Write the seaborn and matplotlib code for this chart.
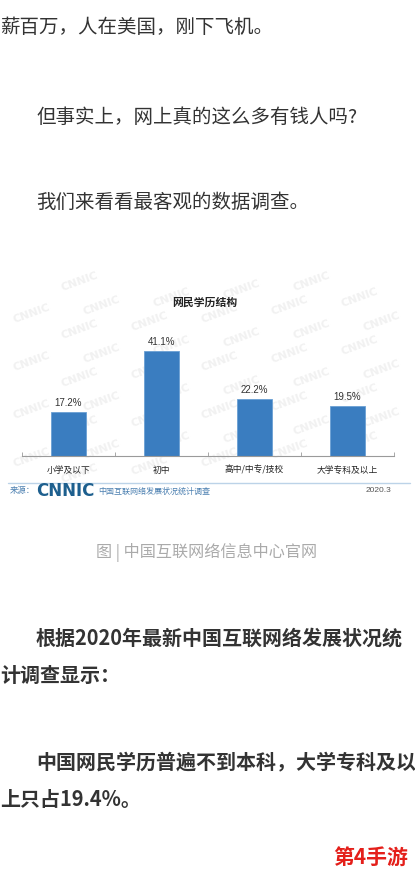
import matplotlib
matplotlib.use("Agg")
import matplotlib.pyplot as plt
import seaborn as sns

# data
categories = ["小学及以下", "初中", "高中/中专/技校", "大学专科及以上"]
shares = [17.2, 41.1, 22.2, 19.5]
value_labels = ["17.2%", "41.1%", "22.2%", "19.5%"]

chart_title = "网民学历结构"
source_label = "来源："
source_name = "中国互联网络发展状况统计调查"
source_date = "2020.3"

sns.set_theme(style="white")
plt.rcParams["font.family"] = ["Noto Sans CJK SC", "DejaVu Sans"]

W, H = 415, 874
fig = plt.figure(figsize=(W / 100, H / 100), dpi=100)
fig.patch.set_facecolor("white")


def fx(px):
    return px / W


def fy(py):
    return 1 - py / H


# article text above the chart
body = "#333333"
fig.text(fx(0), fy(27), "薪百万，人在美国，刚下飞机。", fontsize=14, color=body, va="center")
fig.text(fx(36), fy(117), "但事实上，网上真的这么多有钱人吗?", fontsize=14, color=body, va="center")
fig.text(fx(36), fy(202), "我们来看看最客观的数据调查。", fontsize=14, color=body, va="center")

# faint CNNIC watermarks behind the chart
for r in range(9):
    for c in range(7):
        x = 10 + c * 70 + (r % 2) * 22
        y = 290 + r * 24 - c * 8
        if 280 < y < 478 and 25 < x < 392:
            fig.text(fx(x), fy(y), "CNNIC", fontsize=8, fontweight="bold",
                     family="DejaVu Sans", color="#f1f1f1", rotation=20,
                     ha="center", va="center", zorder=-1)

# the bar chart
base, top = 456, 300
ax = fig.add_axes([fx(22), fy(base), fx(394) - fx(22), (base - top) / H])
ax.set_facecolor("none")
sns.barplot(x=categories, y=shares, color="#3a7dc0", saturation=1, width=0.376,
            edgecolor="#6aa0d4", linewidth=0.6, ax=ax)
ax.set_ylim(0, (base - top) / 2.555)
ax.set_xlim(-0.5, len(categories) - 0.5)
ax.bar_label(ax.containers[0], labels=value_labels, padding=3, fontsize=7,
             color="#333333", family=["Liberation Sans", "DejaVu Sans"])
sns.despine(ax=ax, left=True)
ax.spines["bottom"].set_color("#9a9a9a")
ax.spines["bottom"].set_linewidth(0.8)
ax.set_yticks([])
ax.set_xlabel("")
ax.set_ylabel("")
ax.tick_params(axis="x", which="major", length=0, pad=7, labelsize=6.3, labelcolor="#222222")
ax.set_xticks([i - 0.5 for i in range(len(categories) + 1)], minor=True)
ax.tick_params(axis="x", which="minor", bottom=True, direction="in", length=3,
               width=0.6, color="#9a9a9a")

fig.text(fx(205), fy(303), chart_title, fontsize=7.8, fontweight="bold",
         color="#222222", ha="center", va="center")

# source footer of the chart
fig.add_artist(plt.Line2D([fx(8), fx(410)], [fy(483), fy(483)], color="#bcd3e8", lw=1))
fig.text(fx(10), fy(491), source_label, fontsize=6, color="#4a7fb0", va="center")
fig.text(fx(36), fy(491), "CNNIC", fontsize=12, fontweight="heavy",
         family="DejaVu Sans", color="#1d5f8e", va="center")
fig.text(fx(98), fy(491), source_name, fontsize=5.8, color="#4a7fb0", va="center")
fig.text(fx(391), fy(491), source_date, fontsize=6, color="#555555",
         ha="right", va="center", family=["Liberation Sans", "DejaVu Sans"])

# caption and article text below
fig.text(fx(207), fy(552), "图 | 中国互联网络信息中心官网", fontsize=11.6,
         color="#aaaaaa", ha="center", va="center")
fig.text(fx(36), fy(638), "根据2020年最新中国互联网络发展状况统", fontsize=14.4,
         fontweight="bold", color=body, va="center")
fig.text(fx(0), fy(675), "计调查显示：", fontsize=14.4, fontweight="bold",
         color=body, va="center")
fig.text(fx(36), fy(762), "中国网民学历普遍不到本科，大学专科及以", fontsize=14.4,
         fontweight="bold", color=body, va="center")
fig.text(fx(0), fy(800), "上只占19.4%。", fontsize=14.4, fontweight="bold",
         color=body, va="center")

fig.text(fx(408), fy(857), "第4手游", fontsize=15, fontweight="black",
         color="#e41f1a", ha="right", va="center")

fig.savefig("out.png", dpi=100)
